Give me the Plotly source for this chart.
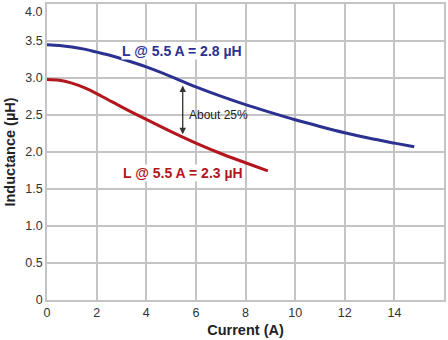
import plotly.graph_objects as go

# Inductance vs. current for two inductors
current_hi = [0, 0.5, 1, 1.5, 2, 2.5, 3, 4, 5, 6, 7, 8, 9, 10, 11, 12, 13, 14, 14.8]
induct_hi = [3.45, 3.44, 3.42, 3.39, 3.35, 3.31, 3.26, 3.15, 3.02, 2.88, 2.755, 2.64, 2.535, 2.435, 2.345, 2.26, 2.185, 2.12, 2.07]

current_lo = [0, 0.5, 1, 1.5, 2, 2.5, 3, 4, 5, 6, 7, 8, 8.9]
induct_lo = [2.98, 2.97, 2.93, 2.87, 2.79, 2.70, 2.61, 2.44, 2.275, 2.12, 1.98, 1.855, 1.745]

label_hi = "L @ 5.5 A = 2.8 µH"
label_lo = "L @ 5.5 A = 2.3 µH"
gap_label = "About 25%"

x_ticks = list(range(0, 17, 2))
y_ticks = [0, 0.5, 1.0, 1.5, 2.0, 2.5, 3.0, 3.5, 4.0]
y_tick_text = ["0", "0.5", "1.0", "1.5", "2.0", "2.5", "3.0", "3.5", ""]
y_top_text = "4.0"

BLUE = "#2b3190"
RED = "#b3161d"
GRID = "#c4c4c4"
FONT = "Liberation Sans, Arial, sans-serif"
TICK_FONT = dict(family=FONT, size=12.5, color="#333333")

fig = go.Figure()
fig.add_trace(go.Scatter(x=current_hi, y=induct_hi, mode="lines",
                         line=dict(color=BLUE, width=3, shape="spline", smoothing=0.8),
                         hoverinfo="skip"))
fig.add_trace(go.Scatter(x=current_lo, y=induct_lo, mode="lines",
                         line=dict(color=RED, width=3, shape="spline", smoothing=0.8),
                         hoverinfo="skip"))

# curve labels
fig.add_annotation(x=5.45, y=3.37, text=f"<b>{label_hi}</b>", showarrow=False,
                   font=dict(family=FONT, size=14, color=BLUE), bgcolor="white",
                   xanchor="center", yanchor="middle", borderpad=0)
fig.add_annotation(x=5.5, y=1.72, text=f"<b>{label_lo}</b>", showarrow=False,
                   font=dict(family=FONT, size=14, color=RED), bgcolor="white",
                   xanchor="center", yanchor="middle", borderpad=0)

# double-headed arrow between the curves at 5.5 A
fig.add_annotation(x=5.47, y=2.90, ax=5.47, ay=2.22, xref="x", yref="y",
                   axref="x", ayref="y", text="", showarrow=True,
                   arrowhead=2, startarrowhead=2, arrowside="end+start",
                   arrowsize=1, arrowwidth=1.3, arrowcolor="#333333",
                   standoff=0, startstandoff=0)
fig.add_annotation(x=5.65, y=2.50, text=gap_label, showarrow=False,
                   font=dict(family=FONT, size=12, color="#222222"),
                   xanchor="left", yanchor="middle")

# top y tick label, kept inside the page
fig.add_annotation(x=0, y=4.0, xref="paper", yref="y", text=y_top_text,
                   showarrow=False, xanchor="right", yanchor="top",
                   xshift=-3, yshift=1, font=TICK_FONT)

fig.update_xaxes(range=[0, 16], tickvals=x_ticks, showgrid=True, gridcolor=GRID,
                 gridwidth=1.5, showline=True, linecolor=GRID, linewidth=1.5,
                 mirror=True, zeroline=False, ticks="", tickfont=TICK_FONT,
                 title=dict(text="<b>Current (A)</b>", standoff=6,
                            font=dict(family=FONT, size=14.5, color="#222222")))
fig.update_yaxes(range=[0, 4], tickvals=y_ticks, ticktext=y_tick_text,
                 showgrid=True, gridcolor=GRID, gridwidth=1.5, showline=True,
                 linecolor=GRID, linewidth=1.5, mirror=True, zeroline=False,
                 ticks="", tickfont=TICK_FONT,
                 title=dict(text="<b>Inductance (µH)</b>", standoff=6,
                            font=dict(family=FONT, size=14.5, color="#222222")))

fig.update_layout(width=448, height=340, showlegend=False,
                  margin=dict(l=47, r=3, t=2, b=40),
                  plot_bgcolor="white", paper_bgcolor="white")

fig.write_html("out.html")
